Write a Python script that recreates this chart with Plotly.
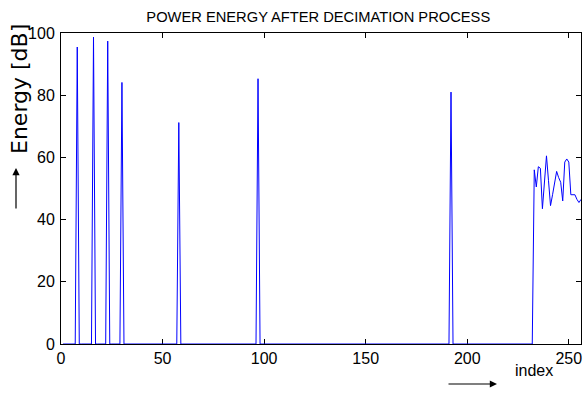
import plotly.graph_objects as go

# ---- data ----
n_points = 256
spike_index = [8, 16, 23, 30, 58, 97, 192]
spike_value = [95.5, 98.7, 97.4, 84.1, 71.2, 85.3, 81.0]
tail_start = 233
tail_values = [56, 50.5, 57, 56.5, 43.5, 52, 60.5, 52.5, 44.5, 48, 51.5, 55.5,
               53.5, 52, 46, 58.5, 59.5, 58.5, 48, 48, 48, 46.5, 45.5, 46.5]
x_ticks = [0, 50, 100, 150, 200, 250]
y_ticks = [0, 20, 40, 60, 80, 100]

index = list(range(1, n_points + 1))
energy = [0.0] * n_points
for i, v in zip(spike_index, spike_value):
    energy[i - 1] = v
for k, v in enumerate(tail_values):
    energy[tail_start - 1 + k] = v

FONT = "Liberation Sans Narrow, Arial Narrow, Liberation Sans, Arial"

fig = go.Figure(go.Scatter(x=index, y=energy, mode="lines",
                           line=dict(color="#0000FF", width=1), showlegend=False))

axis_common = dict(showline=True, linecolor="black", linewidth=1, mirror="ticks",
                   ticks="inside", ticklen=5, tickcolor="black", showgrid=False,
                   zeroline=False, tickfont=dict(family=FONT, size=16, color="black"),
                   layer="below traces", ticklabeloverflow="allow")

fig.update_layout(
    width=584, height=393,
    margin=dict(l=61, r=3, t=33, b=49),
    paper_bgcolor="white", plot_bgcolor="white",
    title=dict(text="POWER ENERGY AFTER DECIMATION PROCESS",
               font=dict(family=FONT, size=14.7, color="black"),
               x=0.545, xanchor="center", xref="container",
               y=1 - 17 / 393, yanchor="middle", yref="container"),
    xaxis=dict(range=[0, 256], tickvals=x_ticks, ticklabelstandoff=0, **axis_common),
    yaxis=dict(range=[0, 100], tickvals=y_ticks, ticklabelstandoff=2, **axis_common),
)

def px_x(p):
    return (p - 61) / 520

def px_y(p):
    return (344 - p) / 311

fig.add_annotation(text="Energy [dB]", textangle=-90, xref="paper", yref="paper",
                   x=px_x(19), y=px_y(89), xanchor="center", yanchor="middle",
                   showarrow=False,
                   font=dict(family="DejaVu Sans", size=22, color="black"))
fig.add_annotation(text="index", xref="paper", yref="paper",
                   x=px_x(534), y=px_y(370), xanchor="center", yanchor="middle",
                   showarrow=False,
                   font=dict(family=FONT, size=16, color="black"))
# arrows
fig.add_annotation(text="", xref="paper", yref="paper", x=px_x(16), y=px_y(168),
                   ax=0, ay=42, showarrow=True, arrowhead=2, arrowsize=1.2,
                   arrowwidth=1.2, arrowcolor="black")
fig.add_annotation(text="", xref="paper", yref="paper", x=px_x(497), y=px_y(384),
                   ax=-50, ay=0, showarrow=True, arrowhead=2, arrowsize=1.2,
                   arrowwidth=1.2, arrowcolor="black")

fig.write_html("out.html")
